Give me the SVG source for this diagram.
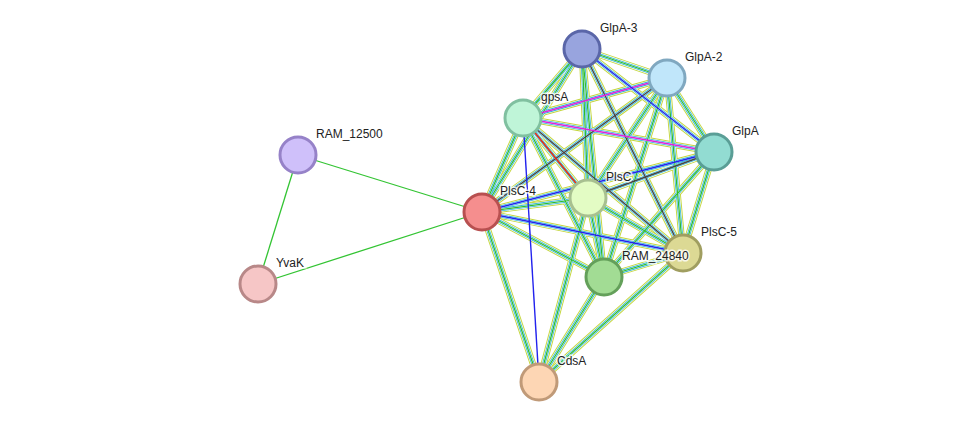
<svg xmlns="http://www.w3.org/2000/svg" xmlns:xlink="http://www.w3.org/1999/xlink" width="976" height="428" viewBox="0 0 976 428">
<style>
.a{stroke:#c4d63c;stroke-width:6.5;fill:none}
.b{stroke:#fff;stroke-width:4.6;fill:none}
.c{stroke:#2fb4d6;stroke-width:3.4;fill:none}
.d{stroke:#fff;stroke-width:1.8;fill:none}
.g{stroke:#2cbc2c;stroke-width:1.2;fill:none}
.k{stroke:#444;stroke-width:1.4;fill:none}
.u{stroke:#2222ee;stroke-width:1.4;fill:none}
.m{stroke:#dd22dd;stroke-width:1.4;fill:none}
.r{stroke:#ee2222;stroke-width:1.4;fill:none}
.s{stroke:#33c433;stroke-width:1.3;fill:none}
.n{stroke-width:3}
text{font-family:"Liberation Sans",Arial,sans-serif;font-size:12px;fill:#222;stroke:#fff;stroke-width:3;paint-order:stroke;stroke-opacity:.8}
</style>
<defs>
<path id="e1" d="M582 49L667 78"/><path id="e2" d="M582 49L523 118"/><path id="e3" d="M582 49L714 152"/>
<path id="e4" d="M582 49L482 212"/><path id="e5" d="M582 49L588 198"/><path id="e6" d="M582 49L683 253"/>
<path id="e7" d="M582 49L604 277"/><path id="e8" d="M667 78L523 118"/><path id="e9" d="M667 78L714 152"/>
<path id="e10" d="M667 78L482 212"/><path id="e11" d="M667 78L588 198"/><path id="e12" d="M667 78L683 253"/>
<path id="e13" d="M667 78L604 277"/><path id="e14" d="M523 118L714 152"/><path id="e15" d="M523 118L482 212"/>
<path id="e16" d="M523 118L588 198"/><path id="e17" d="M523 118L683 253"/><path id="e18" d="M523 118L604 277"/>
<path id="e19" d="M714 152L482 212"/><path id="e20" d="M714 152L588 198"/><path id="e21" d="M714 152L683 253"/>
<path id="e22" d="M714 152L604 277"/><path id="e23" d="M482 212L588 198"/><path id="e24" d="M482 212L683 253"/>
<path id="e25" d="M482 212L604 277"/><path id="e26" d="M588 198L683 253"/><path id="e27" d="M588 198L604 277"/>
<path id="e28" d="M683 253L604 277"/><path id="e29" d="M482 212L539 382"/><path id="e30" d="M588 198L539 382"/>
<path id="e31" d="M604 277L539 382"/><path id="e32" d="M683 253L539 382"/><path id="e33" d="M523 118L539 382"/>
</defs>
<g id="connectors">
<line class="s" x1="298" y1="155" x2="258" y2="284"/>
<line class="s" x1="298" y1="155" x2="482" y2="212"/>
<line class="s" x1="258" y1="284" x2="482" y2="212"/>
<g class="a"><use xlink:href="#e1"/><use xlink:href="#e2"/><use xlink:href="#e3"/><use xlink:href="#e4"/><use xlink:href="#e5"/><use xlink:href="#e6"/><use xlink:href="#e7"/><use xlink:href="#e8"/><use xlink:href="#e9"/><use xlink:href="#e10"/><use xlink:href="#e11"/><use xlink:href="#e12"/><use xlink:href="#e13"/><use xlink:href="#e14"/><use xlink:href="#e15"/><use xlink:href="#e16"/><use xlink:href="#e17"/><use xlink:href="#e18"/><use xlink:href="#e19"/><use xlink:href="#e20"/><use xlink:href="#e21"/><use xlink:href="#e22"/><use xlink:href="#e23"/><use xlink:href="#e24"/><use xlink:href="#e25"/><use xlink:href="#e26"/><use xlink:href="#e27"/><use xlink:href="#e28"/><use xlink:href="#e29"/><use xlink:href="#e30"/><use xlink:href="#e31"/><use xlink:href="#e32"/></g>
<g class="b"><use xlink:href="#e1"/><use xlink:href="#e2"/><use xlink:href="#e3"/><use xlink:href="#e4"/><use xlink:href="#e5"/><use xlink:href="#e6"/><use xlink:href="#e7"/><use xlink:href="#e8"/><use xlink:href="#e9"/><use xlink:href="#e10"/><use xlink:href="#e11"/><use xlink:href="#e12"/><use xlink:href="#e13"/><use xlink:href="#e14"/><use xlink:href="#e15"/><use xlink:href="#e16"/><use xlink:href="#e17"/><use xlink:href="#e18"/><use xlink:href="#e19"/><use xlink:href="#e20"/><use xlink:href="#e21"/><use xlink:href="#e22"/><use xlink:href="#e23"/><use xlink:href="#e24"/><use xlink:href="#e25"/><use xlink:href="#e26"/><use xlink:href="#e27"/><use xlink:href="#e28"/><use xlink:href="#e29"/><use xlink:href="#e30"/><use xlink:href="#e31"/><use xlink:href="#e32"/></g>
<g class="c"><use xlink:href="#e1"/><use xlink:href="#e2"/><use xlink:href="#e3"/><use xlink:href="#e4"/><use xlink:href="#e5"/><use xlink:href="#e6"/><use xlink:href="#e7"/><use xlink:href="#e8"/><use xlink:href="#e9"/><use xlink:href="#e10"/><use xlink:href="#e11"/><use xlink:href="#e12"/><use xlink:href="#e13"/><use xlink:href="#e14"/><use xlink:href="#e15"/><use xlink:href="#e16"/><use xlink:href="#e17"/><use xlink:href="#e18"/><use xlink:href="#e19"/><use xlink:href="#e20"/><use xlink:href="#e21"/><use xlink:href="#e22"/><use xlink:href="#e23"/><use xlink:href="#e24"/><use xlink:href="#e25"/><use xlink:href="#e26"/><use xlink:href="#e27"/><use xlink:href="#e28"/><use xlink:href="#e29"/><use xlink:href="#e30"/><use xlink:href="#e31"/><use xlink:href="#e32"/></g>
<g class="d"><use xlink:href="#e1"/><use xlink:href="#e2"/><use xlink:href="#e3"/><use xlink:href="#e4"/><use xlink:href="#e5"/><use xlink:href="#e6"/><use xlink:href="#e7"/><use xlink:href="#e8"/><use xlink:href="#e9"/><use xlink:href="#e10"/><use xlink:href="#e11"/><use xlink:href="#e12"/><use xlink:href="#e13"/><use xlink:href="#e14"/><use xlink:href="#e15"/><use xlink:href="#e16"/><use xlink:href="#e17"/><use xlink:href="#e18"/><use xlink:href="#e19"/><use xlink:href="#e20"/><use xlink:href="#e21"/><use xlink:href="#e22"/><use xlink:href="#e23"/><use xlink:href="#e24"/><use xlink:href="#e25"/><use xlink:href="#e26"/><use xlink:href="#e27"/><use xlink:href="#e28"/><use xlink:href="#e29"/><use xlink:href="#e30"/><use xlink:href="#e31"/><use xlink:href="#e32"/></g>
<g class="g"><use xlink:href="#e1"/><use xlink:href="#e2"/><use xlink:href="#e4"/><use xlink:href="#e5"/><use xlink:href="#e7"/><use xlink:href="#e9"/><use xlink:href="#e11"/><use xlink:href="#e12"/><use xlink:href="#e13"/><use xlink:href="#e15"/><use xlink:href="#e16"/><use xlink:href="#e18"/><use xlink:href="#e21"/><use xlink:href="#e22"/><use xlink:href="#e23"/><use xlink:href="#e25"/><use xlink:href="#e26"/><use xlink:href="#e27"/><use xlink:href="#e28"/><use xlink:href="#e29"/><use xlink:href="#e30"/><use xlink:href="#e31"/><use xlink:href="#e32"/></g>
<g class="k"><use xlink:href="#e6"/><use xlink:href="#e10"/><use xlink:href="#e20"/><use xlink:href="#e17"/></g>
<g class="m"><use xlink:href="#e8"/><use xlink:href="#e14"/></g>
<g class="u"><use xlink:href="#e3"/><use xlink:href="#e24"/><use xlink:href="#e19"/><use xlink:href="#e33"/></g>
<g class="r"><use xlink:href="#e16"/></g>
</g>
<g id="GlpA-3"><circle class="n" cx="582" cy="49" r="18" fill="#98a4de" stroke="#5a66a8"/><text x="600" y="32">GlpA-3</text></g>
<g id="GlpA-2"><circle class="n" cx="667" cy="78" r="18" fill="#c0e6fa" stroke="#80a8c0"/><text x="685" y="61">GlpA-2</text></g>
<g id="gpsA"><circle class="n" cx="523" cy="118" r="18" fill="#bff5d8" stroke="#80c0a0"/><text x="541" y="101">gpsA</text></g>
<g id="GlpA"><circle class="n" cx="714" cy="152" r="18" fill="#92dcd2" stroke="#5a9e96"/><text x="732" y="135">GlpA</text></g>
<g id="RAM_12500"><circle class="n" cx="298" cy="155" r="18" fill="#cfc0fa" stroke="#9682c8"/><text x="316" y="138">RAM_12500</text></g>
<g id="PlsC-4"><circle class="n" cx="482" cy="212" r="18" fill="#f58e8e" stroke="#b85050"/><text x="500" y="195">PlsC-4</text></g>
<g id="PlsC"><circle class="n" cx="588" cy="198" r="18" fill="#e3fcc4" stroke="#a8c090"/><text x="606" y="181">PlsC</text></g>
<g id="PlsC-5"><circle class="n" cx="683" cy="253" r="18" fill="#dcd994" stroke="#a09e60"/><text x="701" y="236">PlsC-5</text></g>
<g id="RAM_24840"><circle class="n" cx="604" cy="277" r="18" fill="#a2dc94" stroke="#64a05a"/><text x="622" y="260">RAM_24840</text></g>
<g id="YvaK"><circle class="n" cx="258" cy="284" r="18" fill="#f6c6c6" stroke="#b88888"/><text x="276" y="267">YvaK</text></g>
<g id="CdsA"><circle class="n" cx="539" cy="382" r="18" fill="#fdd6b4" stroke="#c09a78"/><text x="557" y="365">CdsA</text></g>
</svg>
